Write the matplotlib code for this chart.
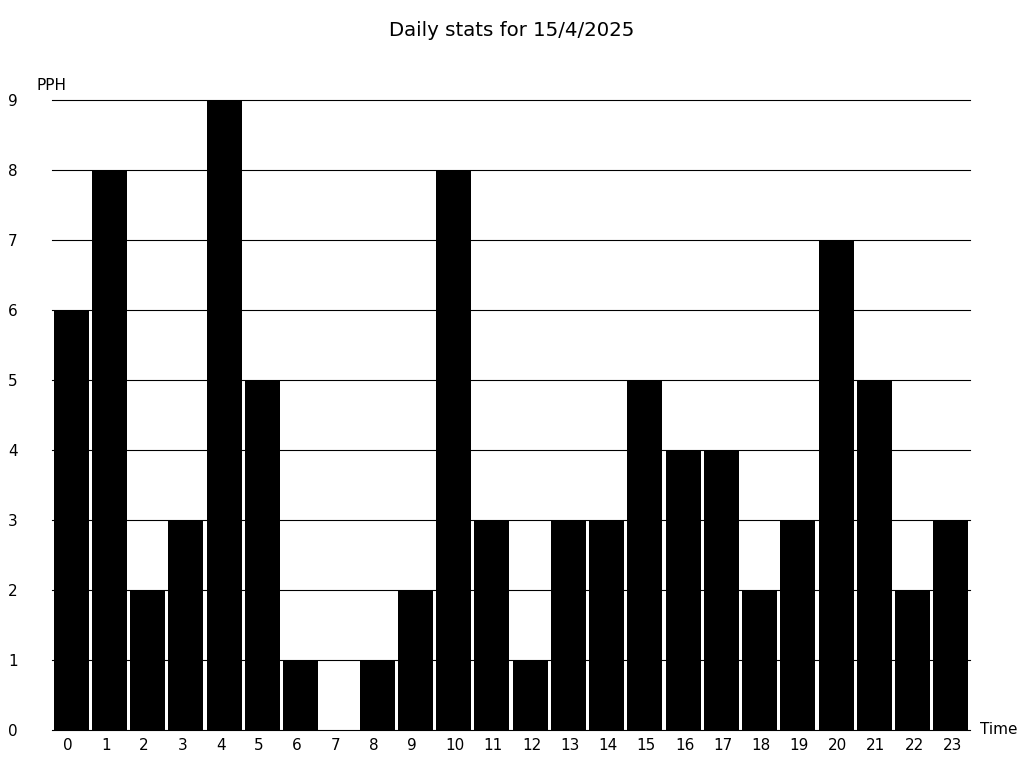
import matplotlib
matplotlib.use('Agg')
import matplotlib.pyplot as plt

hours = list(range(24))
pph = [6, 8, 2, 3, 9, 5, 1, 0, 1, 2, 8, 3, 1, 3, 3, 5, 4, 4, 2, 3, 7, 5, 2, 3]
y_ticks = list(range(10))
title = 'Daily stats for 15/4/2025'

fig = plt.figure(figsize=(10.24, 7.68), dpi=100)
ax = fig.add_axes([52 / 1024, 1 - 730 / 768, (970 - 52) / 1024, (730 - 100) / 768])

ax.bar(hours, pph, width=0.915, color='black', zorder=2)
ax.set_xlim(-0.5, 23.5)
ax.set_ylim(0, 9)

# horizontal grid at every unit
for y in y_ticks:
    ax.axhline(y, color='black', linewidth=0.8, zorder=1, clip_on=False)

for s in ax.spines.values():
    s.set_visible(False)

ax.set_yticks(y_ticks)
ax.set_yticklabels([str(v) for v in y_ticks])
ax.tick_params(axis='y', length=0, pad=31.7, labelsize=11)
for lab in ax.get_yticklabels():
    lab.set_horizontalalignment('left')

# labels sit a bit off centre: single digits nudge left, two digits right
slot_px = (970 - 52) / 24
label_pos = [h + (-3.5 if h < 10 else 1.5) / slot_px for h in hours]
ax.set_xticks(label_pos)
ax.set_xticklabels([str(h) for h in hours])
ax.tick_params(axis='x', length=0, pad=6, labelsize=11)

fig.text(37 / 1024, 1 - 85 / 768, 'PPH', fontsize=11, ha='left', va='center')
fig.text(980 / 1024, 1 - 730 / 768, 'Time', fontsize=11, ha='left', va='center')
fig.text(0.5, 1 - 30 / 768, title, fontsize=14.2, ha='center', va='center')

fig.savefig('out.png', dpi=100)
